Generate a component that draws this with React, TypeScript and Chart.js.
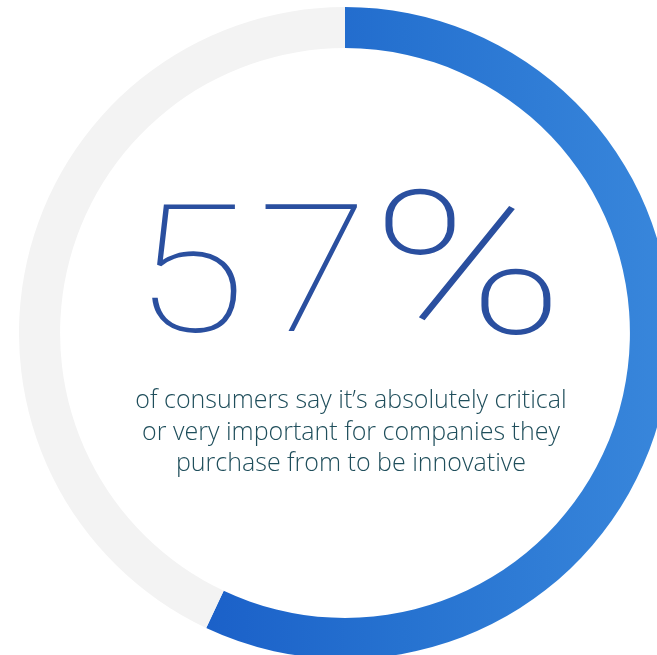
import React, { useEffect, useRef } from "react";
import { Chart, registerables } from "chart.js";

Chart.register(...registerables);

const categories: string[] = ["Absolutely critical / very important", "Other"];
const shareValues: number[] = [57, 43];
const headlineParts: string[] = ["5", "7", "%"];
const captionLines: string[] = [
  "of consumers say it’s absolutely critical",
  "or very important for companies they",
  "purchase from to be innovative",
];

const partStyle: { left: number; scale: number; size: number; top: number }[] = [
  { left: 134, scale: 1.15, size: 178, top: 170 },
  { left: 258, scale: 1.13, size: 178, top: 170 },
  { left: 371, scale: 1.3, size: 200, top: 165 },
];

export default function App() {
  const ref = useRef<HTMLCanvasElement | null>(null);

  useEffect(() => {
    const canvas = ref.current;
    if (!canvas) return;
    const chart = new Chart(canvas, {
      type: "doughnut",
      data: {
        labels: categories,
        datasets: [
          {
            data: shareValues,
            backgroundColor: (ctx: any) => {
              const c = ctx.chart;
              const area = c.chartArea;
              if (ctx.dataIndex === 1) return "#f3f3f3";
              if (!area) return "#2a74d3";
              const g = c.ctx.createLinearGradient(area.left + 170, 0, area.right - 10, 0);
              g.addColorStop(0, "#1a5fc8");
              g.addColorStop(0.45, "#2672d0");
              g.addColorStop(1, "#3886db");
              return g;
            },
            borderWidth: 0,
            hoverOffset: 0,
          },
        ],
      },
      options: {
        responsive: false,
        animation: false,
        cutout: "87.4%",
        layout: { padding: 0 },
        plugins: {
          legend: { display: false },
          tooltip: { enabled: false },
        },
        events: [],
      },
    });
    return () => chart.destroy();
  }, []);

  return (
    <div
      style={{
        position: "fixed",
        left: 0,
        top: 0,
        width: "100vw",
        height: "100vh",
        overflow: "hidden",
        background: "#ffffff",
      }}
    >
      <canvas
        ref={ref}
        width={652}
        height={652}
        style={{ position: "absolute", left: 19, top: 7, width: 652, height: 652 }}
      />
      <div
        style={{
          position: "absolute",
          left: 0,
          top: 0,
          fontFamily: "Roboto, sans-serif",
          fontWeight: 100,
          fontStyle: "normal",
          color: "#2a4f9f",
          whiteSpace: "nowrap",
        }}
      >
        {headlineParts.map((p, i) => (
          <span
            key={i}
            style={{
              position: "absolute",
              left: partStyle[i].left,
              top: partStyle[i].top,
              fontSize: partStyle[i].size,
              lineHeight: "200px",
              display: "block",
              transformOrigin: "left top",
              transform: `scaleX(${partStyle[i].scale})`,
            }}
          >
            {p}
          </span>
        ))}
      </div>
      <div
        style={{
          position: "absolute",
          left: 0,
          width: 702,
          top: 383,
          textAlign: "center",
          fontFamily: "'Open Sans', Lato, sans-serif",
          fontWeight: 300,
          fontSize: 25,
          lineHeight: "31.5px",
          color: "#1f4e5b",
          whiteSpace: "nowrap",
        }}
      >
        {captionLines.map((l, i) => (
          <div key={i}>{l}</div>
        ))}
      </div>
    </div>
  );
}
